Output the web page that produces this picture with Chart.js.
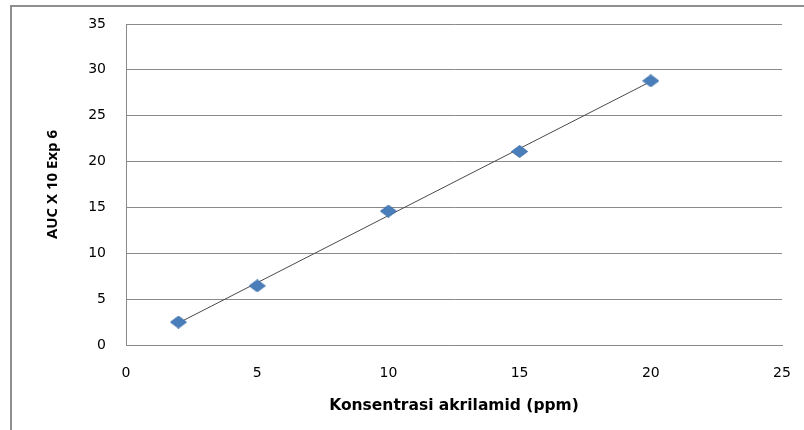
<!DOCTYPE html>
<html>
<head>
<meta charset="utf-8">
<script src="https://cdn.jsdelivr.net/npm/chart.js@4/dist/chart.umd.min.js"></script>
<style>
  html, body { margin: 0; padding: 0; background: #fff; }
  #marco { position: absolute; left: 0; top: 0; width: 804px; height: 430px; overflow: hidden; }
  #borde { position: absolute; left: 10px; top: 5px; width: 900px; height: 600px;
           border-left: 2px solid #8e8e8e; border-top: 2px solid #8e8e8e; }
  #grafico { position: absolute; left: 0; top: 0; }
</style>
</head>
<body>
<div id="marco">
  <div id="borde"></div>
  <canvas id="grafico" width="804" height="430"></canvas>
</div>
<script>
'use strict';

// Datos
const konsentrasi = [2, 5, 10, 15, 20];
const auc = [2.5, 6.45, 14.6, 21.1, 28.8];
const ticksX = [0, 5, 10, 15, 20, 25];
const ticksY = [0, 5, 10, 15, 20, 25, 30, 35];

const TITULO_X = 'Konsentrasi akrilamid (ppm)';
const TITULO_Y = 'AUC X 10 Exp 6';

// Linea de tendencia lineal (minimos cuadrados), como la de Excel
function regresion(xs, ys) {
    const n = xs.length;
    const mx = xs.reduce((a, b) => a + b, 0) / n;
    const my = ys.reduce((a, b) => a + b, 0) / n;
    let sxy = 0, sxx = 0;
    for (let i = 0; i < n; i++) {
        sxy += (xs[i] - mx) * (ys[i] - my);
        sxx += (xs[i] - mx) * (xs[i] - mx);
    }
    const m = sxy / sxx;
    return { m: m, b: my - m * mx };
}

const ajuste = regresion(konsentrasi, auc);
const xMin = Math.min(...konsentrasi);
const xMax = Math.max(...konsentrasi);
const tendencia = [
    { x: xMin, y: ajuste.m * xMin + ajuste.b },
    { x: xMax, y: ajuste.m * xMax + ajuste.b }
];
const puntos = konsentrasi.map((x, i) => ({ x: x, y: auc[i] }));

const COLOR_GRID = '#8a8a8a';
const COLOR_TEXTO = '#000000';

// Marcador rombo algo achatado, como el de Excel estirado
function crearRombo(ancho, alto) {
    const c = document.createElement('canvas');
    c.width = ancho;
    c.height = alto;
    const ctx = c.getContext('2d');
    ctx.beginPath();
    ctx.moveTo(ancho / 2, 0.5);
    ctx.lineTo(ancho - 0.5, alto / 2);
    ctx.lineTo(ancho / 2, alto - 0.5);
    ctx.lineTo(0.5, alto / 2);
    ctx.closePath();
    ctx.fillStyle = '#4a7ebb';
    ctx.fill();
    ctx.strokeStyle = '#3f70aa';
    ctx.lineWidth = 1;
    ctx.stroke();
    return c;
}
const rombo = crearRombo(17, 13);

new Chart(document.getElementById('grafico'), {
    type: 'scatter',
    data: {
        datasets: [
            {
                label: 'tendencia',
                data: tendencia,
                showLine: true,
                borderColor: '#4a4a4a',
                borderWidth: 1,
                pointRadius: 0,
                order: 2
            },
            {
                label: 'AUC',
                data: puntos,
                pointStyle: rombo,
                pointRadius: 8,
                order: 1
            }
        ]
    },
    options: {
        responsive: false,
        animation: false,
        layout: { padding: { top: 24, right: 22, left: 0, bottom: 0 } },
        plugins: {
            legend: { display: false },
            tooltip: { enabled: false }
        },
        scales: {
            x: {
                type: 'linear',
                min: ticksX[0],
                max: ticksX[ticksX.length - 1],
                afterBuildTicks: (eje) => { eje.ticks = ticksX.map(v => ({ value: v })); },
                afterFit: (eje) => {
                    eje.height = 85;
                    eje.paddingLeft = 0;
                    eje.paddingRight = 0;
                },
                border: { display: true, color: COLOR_GRID, width: 1 },
                grid: { display: false, drawTicks: false },
                ticks: {
                    color: COLOR_TEXTO,
                    padding: 20,
                    font: { family: 'DejaVu Sans', size: 14 }
                },
                title: {
                    display: true,
                    text: TITULO_X,
                    color: COLOR_TEXTO,
                    padding: { top: 0, bottom: 15 },
                    font: { family: 'DejaVu Sans', size: 15.5, weight: 'bold' }
                }
            },
            y: {
                type: 'linear',
                min: ticksY[0],
                max: ticksY[ticksY.length - 1],
                afterBuildTicks: (eje) => { eje.ticks = ticksY.map(v => ({ value: v })); },
                afterFit: (eje) => {
                    eje.width = 126;
                    eje.paddingTop = 0;
                    eje.paddingBottom = 0;
                },
                border: { display: true, color: COLOR_GRID, width: 1 },
                grid: { color: COLOR_GRID, lineWidth: 1, drawTicks: false },
                ticks: {
                    color: COLOR_TEXTO,
                    padding: 20,
                    font: { family: 'DejaVu Sans', size: 14 }
                },
                title: {
                    display: true,
                    text: TITULO_Y,
                    color: COLOR_TEXTO,
                    padding: { top: 44, bottom: 0 },
                    font: { family: 'Open Sans', size: 15, weight: 'bold' }
                }
            }
        }
    }
});
</script>
</body>
</html>
